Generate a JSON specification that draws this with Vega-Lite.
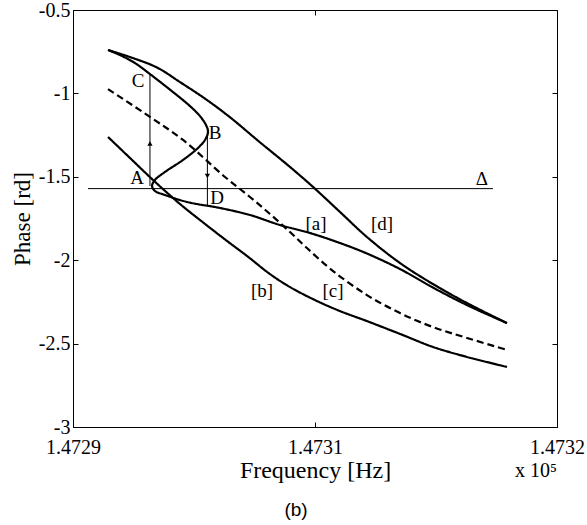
{
  "$schema": "https://vega.github.io/schema/vega-lite/v6.json",
  "width": 484,
  "height": 417,
  "autosize": "none",
  "padding": {"left": 73, "top": 10, "right": 30, "bottom": 98},
  "background": "white",
  "config": {
    "view": {"stroke": null},
    "font": "Liberation Serif",
    "axis": {
      "domainColor": "black",
      "tickColor": "black",
      "labelColor": "black",
      "titleColor": "black",
      "grid": false
    }
  },
  "title": {
    "text": "(b)",
    "orient": "bottom",
    "frame": "group",
    "font": "Liberation Sans",
    "fontSize": 19,
    "fontWeight": "normal",
    "color": "black",
    "dx": -19,
    "offset": 19
  },
  "datasets": {
    "curves": [
      {"curve": "d", "i": 1, "freq": 147292.17, "phase": -0.740},
      {"curve": "d", "i": 2, "freq": 147293.53, "phase": -0.782},
      {"curve": "d", "i": 3, "freq": 147295.21, "phase": -0.845},
      {"curve": "d", "i": 4, "freq": 147296.63, "phase": -0.932},
      {"curve": "d", "i": 5, "freq": 147298.31, "phase": -1.040},
      {"curve": "d", "i": 6, "freq": 147299.86, "phase": -1.153},
      {"curve": "d", "i": 7, "freq": 147301.41, "phase": -1.279},
      {"curve": "d", "i": 8, "freq": 147303.45, "phase": -1.441},
      {"curve": "d", "i": 9, "freq": 147304.88, "phase": -1.561},
      {"curve": "d", "i": 10, "freq": 147306.55, "phase": -1.711},
      {"curve": "d", "i": 11, "freq": 147308.22, "phase": -1.861},
      {"curve": "d", "i": 12, "freq": 147310.27, "phase": -2.017},
      {"curve": "d", "i": 13, "freq": 147312.31, "phase": -2.143},
      {"curve": "d", "i": 14, "freq": 147314.42, "phase": -2.257},
      {"curve": "d", "i": 15, "freq": 147316.90, "phase": -2.377},

      {"curve": "a", "i": 1, "freq": 147292.17, "phase": -0.740},
      {"curve": "a", "i": 2, "freq": 147292.91, "phase": -0.770},
      {"curve": "a", "i": 3, "freq": 147293.84, "phase": -0.818},
      {"curve": "a", "i": 4, "freq": 147294.77, "phase": -0.884},
      {"curve": "a", "i": 5, "freq": 147296.20, "phase": -0.992},
      {"curve": "a", "i": 6, "freq": 147297.25, "phase": -1.076},
      {"curve": "a", "i": 7, "freq": 147297.87, "phase": -1.136},
      {"curve": "a", "i": 8, "freq": 147298.24, "phase": -1.189},
      {"curve": "a", "i": 9, "freq": 147298.37, "phase": -1.231},
      {"curve": "a", "i": 10, "freq": 147298.18, "phase": -1.279},
      {"curve": "a", "i": 11, "freq": 147297.75, "phase": -1.327},
      {"curve": "a", "i": 12, "freq": 147296.82, "phase": -1.399},
      {"curve": "a", "i": 13, "freq": 147295.70, "phase": -1.471},
      {"curve": "a", "i": 14, "freq": 147295.08, "phase": -1.519},
      {"curve": "a", "i": 15, "freq": 147294.90, "phase": -1.555},
      {"curve": "a", "i": 16, "freq": 147295.08, "phase": -1.585},
      {"curve": "a", "i": 17, "freq": 147295.70, "phase": -1.609},
      {"curve": "a", "i": 18, "freq": 147297.07, "phase": -1.651},
      {"curve": "a", "i": 19, "freq": 147299.11, "phase": -1.687},
      {"curve": "a", "i": 20, "freq": 147300.97, "phase": -1.729},
      {"curve": "a", "i": 21, "freq": 147302.83, "phase": -1.789},
      {"curve": "a", "i": 22, "freq": 147304.69, "phase": -1.837},
      {"curve": "a", "i": 23, "freq": 147306.55, "phase": -1.897},
      {"curve": "a", "i": 24, "freq": 147308.22, "phase": -1.960},
      {"curve": "a", "i": 25, "freq": 147310.27, "phase": -2.053},
      {"curve": "a", "i": 26, "freq": 147312.31, "phase": -2.164},
      {"curve": "a", "i": 27, "freq": 147314.42, "phase": -2.269},
      {"curve": "a", "i": 28, "freq": 147316.90, "phase": -2.377},

      {"curve": "c", "i": 1, "freq": 147292.17, "phase": -0.974},
      {"curve": "c", "i": 2, "freq": 147294.77, "phase": -1.141},
      {"curve": "c", "i": 3, "freq": 147296.82, "phase": -1.279},
      {"curve": "c", "i": 4, "freq": 147299.42, "phase": -1.501},
      {"curve": "c", "i": 5, "freq": 147300.97, "phase": -1.621},
      {"curve": "c", "i": 6, "freq": 147302.21, "phase": -1.723},
      {"curve": "c", "i": 7, "freq": 147303.45, "phase": -1.831},
      {"curve": "c", "i": 8, "freq": 147304.50, "phase": -1.927},
      {"curve": "c", "i": 9, "freq": 147306.12, "phase": -2.065},
      {"curve": "c", "i": 10, "freq": 147308.22, "phase": -2.209},
      {"curve": "c", "i": 11, "freq": 147310.27, "phase": -2.317},
      {"curve": "c", "i": 12, "freq": 147312.31, "phase": -2.401},
      {"curve": "c", "i": 13, "freq": 147314.42, "phase": -2.466},
      {"curve": "c", "i": 14, "freq": 147316.90, "phase": -2.538},

      {"curve": "b", "i": 1, "freq": 147292.17, "phase": -1.261},
      {"curve": "b", "i": 2, "freq": 147293.53, "phase": -1.387},
      {"curve": "b", "i": 3, "freq": 147294.96, "phase": -1.519},
      {"curve": "b", "i": 4, "freq": 147296.63, "phase": -1.663},
      {"curve": "b", "i": 5, "freq": 147297.87, "phase": -1.759},
      {"curve": "b", "i": 6, "freq": 147299.55, "phase": -1.885},
      {"curve": "b", "i": 7, "freq": 147300.79, "phase": -1.975},
      {"curve": "b", "i": 8, "freq": 147302.21, "phase": -2.083},
      {"curve": "b", "i": 9, "freq": 147303.45, "phase": -2.161},
      {"curve": "b", "i": 10, "freq": 147305.00, "phase": -2.239},
      {"curve": "b", "i": 11, "freq": 147306.55, "phase": -2.305},
      {"curve": "b", "i": 12, "freq": 147308.22, "phase": -2.365},
      {"curve": "b", "i": 13, "freq": 147310.27, "phase": -2.442},
      {"curve": "b", "i": 14, "freq": 147312.31, "phase": -2.520},
      {"curve": "b", "i": 15, "freq": 147314.42, "phase": -2.580},
      {"curve": "b", "i": 16, "freq": 147316.90, "phase": -2.640}
    ],
    "delta": [
      {"freq": 147290.93, "freq_end": 147316.03, "phase": -1.5708}
    ],
    "jumps": [
      {"jump": "A-C", "freq": 147294.77, "phase_top": -0.890, "phase_bottom": -1.555},
      {"jump": "B-D", "freq": 147298.33, "phase_top": -1.225, "phase_bottom": -1.669}
    ],
    "arrows": [
      {"dir": "up", "freq": 147294.77, "phase": -1.300},
      {"dir": "down", "freq": 147298.33, "phase": -1.495}
    ],
    "labels": [
      {"label": "C", "freq": 147294.03, "phase": -0.926},
      {"label": "B", "freq": 147298.80, "phase": -1.237},
      {"label": "A", "freq": 147293.97, "phase": -1.507},
      {"label": "D", "freq": 147298.93, "phase": -1.627},
      {"label": "[a]", "freq": 147305.06, "phase": -1.783},
      {"label": "[d]", "freq": 147309.15, "phase": -1.783},
      {"label": "[c]", "freq": 147306.12, "phase": -2.185},
      {"label": "[b]", "freq": 147301.72, "phase": -2.185},
      {"label": "Δ", "freq": 147315.35, "phase": -1.513}
    ],
    "multiplier": [
      {"text": "x 10⁵", "freq": 147320, "phase": -3}
    ]
  },
  "layer": [
    {
      "data": {"name": "curves"},
      "mark": {"type": "line", "interpolate": "catmull-rom", "strokeWidth": 2.2, "color": "black"},
      "encoding": {
        "x": {
          "field": "freq",
          "type": "quantitative",
          "scale": {"domain": [147290, 147320], "nice": false, "zero": false},
          "axis": {
            "orient": "bottom",
            "values": [147290, 147305, 147320],
            "labelExpr": "datum.value == 147290 ? '1.4729' : datum.value == 147305 ? '1.4731' : '1.4732'",
            "labelFlush": false,
            "labelOverlap": false,
            "labelFont": "Liberation Serif",
            "labelFontSize": 20,
            "tickSize": -5,
            "labelPadding": 15,
            "title": "Frequency [Hz]",
            "titleFont": "Liberation Serif",
            "titleFontWeight": "normal",
            "titleFontSize": 24,
            "titlePadding": 1
          }
        },
        "y": {
          "field": "phase",
          "type": "quantitative",
          "scale": {"domain": [-3, -0.5], "nice": false, "zero": false},
          "axis": {
            "orient": "left",
            "values": [-3, -2.5, -2, -1.5, -1, -0.5],
            "labelExpr": "'' + datum.value",
            "labelFont": "Liberation Serif",
            "labelFontSize": 20,
            "labelOverlap": false,
            "tickSize": -5,
            "labelPadding": 8,
            "title": "Phase [rd]",
            "titleFont": "Liberation Serif",
            "titleFontWeight": "normal",
            "titleFontSize": 23,
            "titlePadding": 4
          }
        },
        "order": {"field": "i", "type": "quantitative"},
        "strokeDash": {
          "field": "curve",
          "type": "nominal",
          "scale": {"domain": ["a", "b", "c", "d"], "range": [[1, 0], [1, 0], [7, 4], [1, 0]]},
          "legend": null
        }
      }
    },
    {
      "data": {"name": "delta"},
      "mark": {"type": "rule", "strokeWidth": 1, "color": "black"},
      "encoding": {
        "x": {
          "field": "freq",
          "type": "quantitative",
          "axis": {
            "orient": "top",
            "values": [147290, 147305, 147320],
            "labels": false,
            "tickSize": -5,
            "title": null
          }
        },
        "x2": {"field": "freq_end"},
        "y": {
          "field": "phase",
          "type": "quantitative",
          "axis": {
            "orient": "right",
            "values": [-3, -2.5, -2, -1.5, -1, -0.5],
            "labels": false,
            "tickSize": -5,
            "title": null
          }
        }
      }
    },
    {
      "data": {"name": "jumps"},
      "mark": {"type": "rule", "strokeWidth": 1, "color": "black"},
      "encoding": {
        "x": {"field": "freq", "type": "quantitative", "axis": null},
        "y": {"field": "phase_top", "type": "quantitative", "axis": null},
        "y2": {"field": "phase_bottom"}
      }
    },
    {
      "data": {"name": "arrows"},
      "mark": {"type": "point", "filled": true, "color": "black", "size": 28, "opacity": 1},
      "encoding": {
        "x": {"field": "freq", "type": "quantitative", "axis": null},
        "y": {"field": "phase", "type": "quantitative", "axis": null},
        "shape": {
          "field": "dir",
          "type": "nominal",
          "scale": {"domain": ["up", "down"], "range": ["triangle-up", "triangle-down"]},
          "legend": null
        }
      }
    },
    {
      "data": {"name": "labels"},
      "mark": {"type": "text", "font": "Liberation Serif", "fontSize": 19, "color": "black", "align": "center", "baseline": "middle"},
      "encoding": {
        "x": {"field": "freq", "type": "quantitative", "axis": null},
        "y": {"field": "phase", "type": "quantitative", "axis": null},
        "text": {"field": "label"}
      }
    },
    {
      "data": {"name": "multiplier"},
      "mark": {"type": "text", "font": "Liberation Serif", "fontSize": 20, "color": "black", "align": "right", "baseline": "alphabetic", "dy": 50},
      "encoding": {
        "x": {"field": "freq", "type": "quantitative", "axis": null},
        "y": {"field": "phase", "type": "quantitative", "axis": null},
        "text": {"field": "text"}
      }
    }
  ],
  "resolve": {"axis": {"x": "independent", "y": "independent"}}
}
